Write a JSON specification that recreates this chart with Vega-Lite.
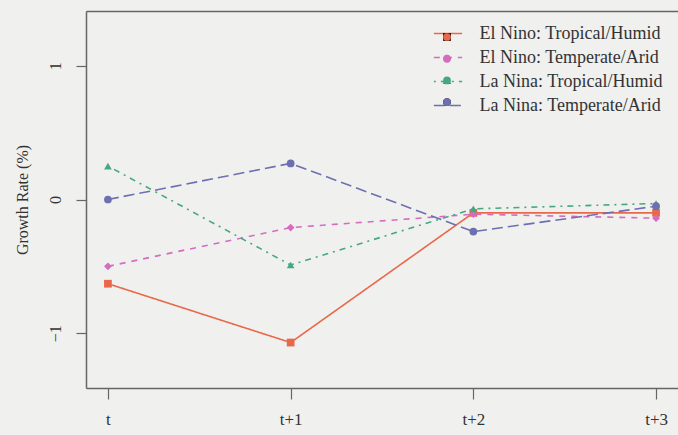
{
  "$schema": "https://vega.github.io/schema/vega-lite/v6.json",
  "width": 592,
  "height": 377,
  "autosize": "none",
  "padding": {"left": 86, "top": 11, "right": 0, "bottom": 47},
  "background": "#f0f0ee",
  "config": {
    "view": {"stroke": null},
    "font": "Liberation Serif",
    "axis": {"domainColor": "#666666", "domainWidth": 1.5, "tickColor": "#666666", "tickWidth": 1.2, "labelColor": "#333333", "titleColor": "#333333", "labelFont": "Liberation Serif", "titleFont": "Liberation Serif", "grid": false},
    "legend": {"labelFont": "Liberation Serif", "labelFontSize": 18, "labelColor": "#333333", "labelLimit": 0}
  },
  "data": {
    "values": [
      {"period": "t", "series": "El Nino: Tropical/Humid", "growth": -0.63},
      {"period": "t+1", "series": "El Nino: Tropical/Humid", "growth": -1.07},
      {"period": "t+2", "series": "El Nino: Tropical/Humid", "growth": -0.10},
      {"period": "t+3", "series": "El Nino: Tropical/Humid", "growth": -0.10},
      {"period": "t", "series": "El Nino: Temperate/Arid", "growth": -0.50},
      {"period": "t+1", "series": "El Nino: Temperate/Arid", "growth": -0.21},
      {"period": "t+2", "series": "El Nino: Temperate/Arid", "growth": -0.11},
      {"period": "t+3", "series": "El Nino: Temperate/Arid", "growth": -0.14},
      {"period": "t", "series": "La Nina: Tropical/Humid", "growth": 0.25},
      {"period": "t+1", "series": "La Nina: Tropical/Humid", "growth": -0.49},
      {"period": "t+2", "series": "La Nina: Tropical/Humid", "growth": -0.07},
      {"period": "t+3", "series": "La Nina: Tropical/Humid", "growth": -0.03},
      {"period": "t", "series": "La Nina: Temperate/Arid", "growth": 0.00},
      {"period": "t+1", "series": "La Nina: Temperate/Arid", "growth": 0.27},
      {"period": "t+2", "series": "La Nina: Temperate/Arid", "growth": -0.24},
      {"period": "t+3", "series": "La Nina: Temperate/Arid", "growth": -0.05}
    ]
  },
  "encoding": {
    "y": {
      "field": "growth", "type": "quantitative",
      "scale": {"domain": [-1.41, 1.41], "nice": false, "zero": false},
      "axis": {"values": [-1, 0, 1], "labelAngle": -90, "labelAlign": "center", "labelBaseline": "bottom", "tickSize": 10, "labelFontSize": 16, "labelPadding": 13, "title": "Growth Rate (%)", "titleFontSize": 16, "titleFontWeight": "normal", "titlePadding": 17}
    }
  },
  "layer": [
    {
      "mark": {"type": "line", "strokeWidth": 1.6},
      "encoding": {
        "x": {
          "field": "period", "type": "ordinal", "sort": ["t", "t+1", "t+2", "t+3"],
          "scale": {"type": "point", "padding": 0.12},
          "axis": {"labelAngle": 0, "title": null, "tickSize": 11, "labelFontSize": 17, "labelPadding": 12, "domain": true}
        },
        "color": {
          "field": "series", "type": "nominal",
          "scale": {"domain": ["El Nino: Tropical/Humid", "El Nino: Temperate/Arid", "La Nina: Tropical/Humid", "La Nina: Temperate/Arid"], "range": ["#E8694A", "#D66BC0", "#45A882", "#6C70B0"]},
          "legend": {"orient": "none", "legendX": 347, "legendY": 7.5, "title": null, "symbolType": "stroke", "symbolSize": 800, "symbolStrokeWidth": 1.6, "rowPadding": 0, "labelOffset": 16.5}
        },
        "strokeDash": {
          "field": "series", "type": "nominal",
          "scale": {"domain": ["El Nino: Tropical/Humid", "El Nino: Temperate/Arid", "La Nina: Tropical/Humid", "La Nina: Temperate/Arid"], "range": [[1, 0], [6, 6], [2, 5, 6, 5], [11, 5]]},
          "legend": {"orient": "none", "legendX": 347, "legendY": 7.5, "title": null, "symbolType": "stroke", "symbolSize": 800, "symbolStrokeWidth": 1.6, "rowPadding": 0, "labelOffset": 16.5}
        }
      }
    },
    {
      "mark": {"type": "point", "filled": true, "opacity": 1, "size": 60},
      "encoding": {
        "x": {
          "field": "period", "type": "ordinal", "sort": ["t", "t+1", "t+2", "t+3"],
          "scale": {"type": "point", "padding": 0.12},
          "axis": {"orient": "top", "labels": false, "ticks": false, "title": null, "domain": true}
        },
        "fill": {
          "field": "series", "type": "nominal",
          "sort": ["El Nino: Tropical/Humid", "El Nino: Temperate/Arid", "La Nina: Tropical/Humid", "La Nina: Temperate/Arid"],
          "scale": {"range": ["#E8694A", "#D66BC0", "#45A882", "#6C70B0"]},
          "legend": {"orient": "none", "legendX": 352, "legendY": 17, "title": null, "symbolSize": 60, "labelOpacity": 0, "rowPadding": 3.7}
        },
        "shape": {
          "field": "series", "type": "nominal",
          "sort": ["El Nino: Tropical/Humid", "El Nino: Temperate/Arid", "La Nina: Tropical/Humid", "La Nina: Temperate/Arid"],
          "scale": {"range": ["square", "diamond", "triangle-up", "circle"]},
          "legend": {"orient": "none", "legendX": 352, "legendY": 17, "title": null, "symbolSize": 60, "labelOpacity": 0, "rowPadding": 3.7}
        }
      }
    }
  ],
  "resolve": {"axis": {"x": "independent"}}
}
